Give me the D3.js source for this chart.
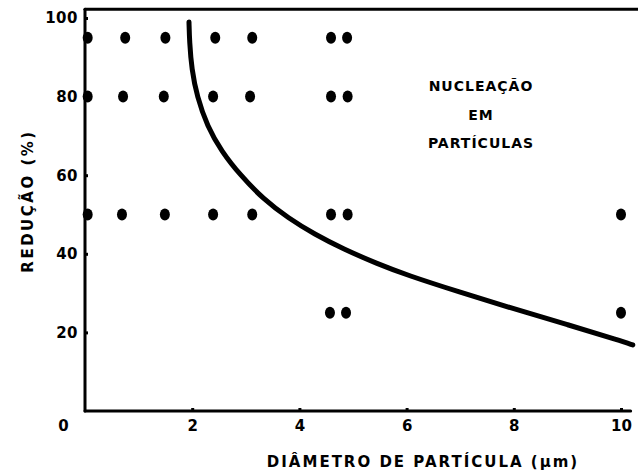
<!DOCTYPE html>
<html>
<head>
<meta charset="utf-8">
<script src="https://cdn.jsdelivr.net/npm/d3@7"></script>
<style>
  html, body { margin: 0; padding: 0; background: #fff; }
  svg { display: block; }
  text { font-family: "DejaVu Sans", sans-serif; font-weight: bold; fill: #000; }
</style>
</head>
<body>
<svg id="chart" width="638" height="472"></svg>
<script>
// ---- data ----
const xTicks = [0, 2, 4, 6, 8, 10];
const yTicks = [20, 40, 60, 80, 100];

const pointX = [0.05, 0.75, 1.5, 2.43, 3.12, 4.59, 4.89,
                0.05, 0.71, 1.47, 2.39, 3.08, 4.59, 4.9,
                0.05, 0.69, 1.49, 2.39, 3.12, 4.59, 4.9, 10.0,
                4.57, 4.87, 10.0];
const pointY = [95, 95, 95, 95, 95, 95, 95,
                80, 80, 80, 80, 80, 80, 80,
                50, 50, 50, 50, 50, 50, 50, 50,
                25, 25, 25];

const curveX = [1.94, 1.95, 1.99, 2.09, 2.28, 2.55, 2.9, 3.32, 3.8, 4.28, 4.82, 5.45, 6.0, 7.0, 8.0, 9.0, 10.0, 10.22];
const curveY = [99.0, 94.0, 87.0, 80.0, 72.5, 66.0, 60.0, 54.0, 49.0, 45.0, 41.2, 37.5, 34.6, 30.2, 26.0, 22.0, 17.8, 16.8];

const xTitle = "DIÂMETRO DE PARTÍCULA (μm)";
const yTitle = "REDUÇÃO (%)";
const noteLines = ["NUCLEAÇÃO", "EM", "PARTÍCULAS"];

// ---- chart ----
const svg = d3.select("#chart");
const x = d3.scaleLinear().domain([0, 10]).range([85, 621]);
const y = d3.scaleLinear().domain([0, 100]).range([411, 18]);

// axis lines
const axisLines = svg.append("g").attr("stroke", "#000").attr("stroke-width", 3).attr("stroke-linecap", "round");
axisLines.append("line").attr("x1", x(0)).attr("x2", x(10.18)).attr("y1", y(0)).attr("y2", y(0));
axisLines.append("line").attr("x1", x(0)).attr("x2", x(0)).attr("y1", y(0)).attr("y2", y(102.2));
axisLines.append("line").attr("x1", x(0)).attr("x2", 638).attr("y1", y(102.2)).attr("y2", y(102.2));

// x axis
const xAxis = d3.axisBottom(x).tickValues(xTicks).tickFormat(d3.format("d")).tickSize(-3).tickPadding(9);
const gx = svg.append("g").attr("transform", `translate(0,${y(0)})`).call(xAxis);
gx.select(".domain").remove();
gx.selectAll(".tick line").attr("stroke", "#000").attr("stroke-width", 3);
gx.selectAll(".tick text").attr("font-size", 15).attr("font-family", "DejaVu Sans").attr("font-weight", "bold");
gx.selectAll(".tick").filter(d => d === 0).select("line").remove();
gx.selectAll(".tick").filter(d => d === 0).select("text").attr("dx", -22);

// y axis
const yAxis = d3.axisLeft(y).tickValues(yTicks).tickFormat(d3.format("d")).tickSize(-3).tickPadding(7);
const gy = svg.append("g").attr("transform", `translate(${x(0)},0)`).call(yAxis);
gy.select(".domain").remove();
gy.selectAll(".tick line").attr("stroke", "#000").attr("stroke-width", 3);
gy.selectAll(".tick text").attr("font-size", 15).attr("font-family", "DejaVu Sans").attr("font-weight", "bold").attr("letter-spacing", 0.5);

// curve
const lineGen = d3.line().x((d, i) => x(curveX[i])).y((d, i) => y(curveY[i])).curve(d3.curveBasis);
svg.append("path").datum(curveX).attr("d", lineGen)
  .attr("fill", "none").attr("stroke", "#000").attr("stroke-width", 5).attr("stroke-linecap", "round");

// points
svg.append("g").selectAll("ellipse").data(pointX).join("ellipse")
  .attr("cx", (d) => x(d)).attr("cy", (d, i) => y(pointY[i]))
  .attr("rx", 5).attr("ry", 6).attr("fill", "#000");

// titles
svg.append("text").attr("x", 423).attr("y", 467).attr("text-anchor", "middle")
  .attr("font-size", 15).attr("letter-spacing", 2).text(xTitle);
svg.append("text").attr("transform", "translate(33,201) rotate(-90)").attr("text-anchor", "middle")
  .attr("font-size", 15).attr("letter-spacing", 2.5).text(yTitle);

// annotation
svg.append("g").selectAll("text").data(noteLines).join("text")
  .attr("x", 481).attr("y", (d, i) => 91 + i * 28.5)
  .attr("text-anchor", "middle").attr("font-size", 14).attr("letter-spacing", 1)
  .text(d => d);
</script>
</body>
</html>
